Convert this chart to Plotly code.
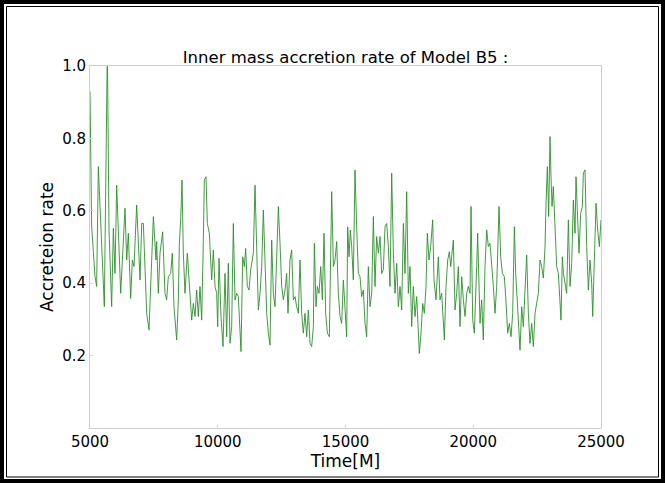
import plotly.graph_objects as go

time_m = [5000, 5065, 5196, 5261, 5326, 5561, 5679, 5744, 5848, 5914, 5979, 6044, 6201, 6305, 6370, 6436,
          6501, 6592, 6657, 6723, 6827, 6958, 7023, 7088, 7219, 7310, 7480,
          7583, 7609, 7674, 7740, 7844, 7935, 8000, 8066, 8157, 8222, 8288, 8392, 8457, 8496, 8549, 8601,
          8653, 8718, 8810, 8914, 8979, 9045, 9110, 9175, 9240, 9306, 9371, 9436, 9475, 9540, 9593, 9671,
          9762, 9828, 9893, 9958,
          9997, 10049, 10127, 10206, 10284, 10349, 10414, 10480, 10545, 10610, 10676, 10741, 10806, 10910,
          10976, 11041, 11093, 11158, 11224, 11289, 11354, 11393, 11458, 11524, 11589, 11654, 11720, 11785,
          11850, 11915, 11981, 12046, 12111, 12176, 12242, 12307, 12372, 12437,
          12502, 12567, 12632, 12698, 12750, 12828, 12893, 12959, 13024, 13089, 13154, 13220, 13285, 13350,
          13415, 13481, 13546, 13611, 13676, 13742, 13781, 13846, 13898, 13963, 14029, 14094, 14159, 14224,
          14290, 14368, 14460, 14525, 14590, 14655, 14720, 14786, 14851, 14916,
          15046, 15085, 15137, 15189, 15242, 15307, 15372, 15437, 15503, 15568, 15633, 15698, 15764, 15829,
          15894, 15959, 16025, 16090, 16155, 16220, 16286, 16351, 16416, 16481, 16547, 16612, 16677, 16742,
          16808, 16873, 16938, 17004, 17069, 17134, 17199, 17265, 17330, 17395, 17460, 17526,
          17590, 17655, 17721, 17786, 17851, 17890, 17955, 18021, 18086, 18151, 18203, 18269, 18334, 18412,
          18464, 18543, 18634, 18699, 18765, 18830, 18869, 18934, 19000, 19065, 19117, 19221, 19286, 19352,
          19417, 19482, 19548, 19613, 19678, 19743, 19809, 19874, 19913, 19978, 20043,
          20134, 20173, 20265, 20330, 20395, 20460, 20526, 20591, 20656, 20721, 20787, 20852, 20917, 21009,
          21074, 21139, 21217, 21270, 21348, 21413, 21478, 21544, 21609, 21661, 21713, 21765, 21831, 21896,
          21961, 22026, 22092, 22157, 22222, 22287, 22353, 22418, 22483, 22548, 22614,
          22678, 22744, 22809, 22848, 22900, 22952, 23005, 23044, 23083, 23135, 23200, 23266, 23331, 23396,
          23435, 23487, 23527, 23592, 23657, 23722, 23788, 23853, 23918, 23983, 24022, 24074, 24140, 24205,
          24270, 24309, 24375, 24440, 24505, 24570, 24636, 24675, 24740, 24805, 24870, 24936, 25000]

accretion_rate = [0.93, 0.556, 0.418, 0.391, 0.722, 0.335, 1.05, 0.547, 0.335, 0.552, 0.427, 0.671, 0.372, 0.538,
                  0.607, 0.464, 0.538, 0.358, 0.464, 0.446, 0.616, 0.409, 0.565, 0.565, 0.317, 0.271, 0.584,
                  0.464, 0.515, 0.372, 0.483, 0.542, 0.372, 0.354, 0.418, 0.427, 0.483, 0.335, 0.243, 0.354,
                  0.510, 0.575, 0.685, 0.483, 0.372, 0.483, 0.354, 0.298, 0.344, 0.308, 0.381, 0.308, 0.391,
                  0.298, 0.519, 0.685, 0.694, 0.565, 0.538, 0.409, 0.492, 0.391, 0.372,
                  0.280, 0.469, 0.308, 0.225, 0.427, 0.252, 0.455, 0.234, 0.280, 0.565, 0.354, 0.372, 0.363,
                  0.211, 0.473, 0.446, 0.496, 0.391, 0.381, 0.437, 0.464, 0.483, 0.671, 0.464, 0.326, 0.372,
                  0.446, 0.602, 0.418, 0.317, 0.262, 0.229, 0.519, 0.372, 0.335, 0.492, 0.612, 0.510,
                  0.391, 0.354, 0.381, 0.427, 0.317, 0.464, 0.492, 0.354, 0.363, 0.335, 0.317, 0.464, 0.317,
                  0.262, 0.317, 0.252, 0.326, 0.234, 0.225, 0.280, 0.510, 0.335, 0.391, 0.372, 0.446, 0.354,
                  0.538, 0.317, 0.262, 0.252, 0.653, 0.446, 0.464, 0.515, 0.372, 0.308, 0.289, 0.409,
                  0.252, 0.556, 0.473, 0.547, 0.501, 0.409, 0.713, 0.556, 0.427, 0.418, 0.363, 0.381, 0.289,
                  0.252, 0.446, 0.335, 0.372, 0.584, 0.391, 0.529, 0.483, 0.529, 0.427, 0.437, 0.556, 0.565,
                  0.501, 0.391, 0.704, 0.483, 0.372, 0.455, 0.335, 0.391, 0.326, 0.565, 0.427, 0.653, 0.372,
                  0.446,
                  0.280, 0.391, 0.308, 0.363, 0.252, 0.206, 0.262, 0.344, 0.317, 0.391, 0.538, 0.464, 0.501,
                  0.575, 0.409, 0.354, 0.473, 0.354, 0.372, 0.289, 0.243, 0.391, 0.464, 0.487, 0.446, 0.519,
                  0.326, 0.372, 0.446, 0.280, 0.418, 0.354, 0.308, 0.372, 0.391, 0.372, 0.612, 0.298, 0.262,
                  0.446, 0.538, 0.289, 0.354, 0.243, 0.446, 0.547, 0.501, 0.510, 0.455, 0.391, 0.317, 0.391,
                  0.612, 0.473, 0.427, 0.418, 0.363, 0.262, 0.289, 0.252, 0.317, 0.556, 0.427, 0.354, 0.289,
                  0.215, 0.335, 0.280, 0.381, 0.478, 0.317, 0.234, 0.289, 0.225, 0.317, 0.344, 0.372, 0.464,
                  0.446, 0.414, 0.501, 0.621, 0.722, 0.584, 0.805, 0.694, 0.612, 0.667, 0.547, 0.446, 0.427,
                  0.335, 0.298, 0.473, 0.427, 0.400, 0.372, 0.575, 0.391, 0.455, 0.630, 0.538, 0.694, 0.602,
                  0.483, 0.593, 0.612, 0.704, 0.713, 0.501, 0.381, 0.464, 0.400, 0.308, 0.501, 0.621, 0.547,
                  0.501, 0.575]

x_ticks = [5000, 10000, 15000, 20000, 25000]
y_ticks = [0.2, 0.4, 0.6, 0.8, 1.0]

W, H = 665, 483
L, R, T, B = 90, 601, 66, 428

def px(x):
    return (x - L) / (R - L)

def py(y):
    return (B - y) / (B - T)

fig = go.Figure()
fig.add_trace(go.Scatter(x=time_m, y=accretion_rate, mode="lines",
                         line=dict(color="#2a912a", width=0.9), showlegend=False, hoverinfo="skip"))

tick_font = dict(family="DejaVu Sans", size=15, color="#000000")
axis_common = dict(showgrid=False, zeroline=False, showline=True, linecolor="#cfcfcf", linewidth=1,
                   mirror=True, ticks="inside", ticklen=3, tickcolor="#d8d8d8",
                   tickfont=tick_font)

fig.update_layout(
    width=W, height=H,
    margin=dict(l=L, r=W - R, t=T, b=H - B, autoexpand=False),
    paper_bgcolor="white", plot_bgcolor="white",
    font=dict(family="DejaVu Sans", color="#000000"),
    title=dict(text="Inner mass accretion rate of Model B5 :",
               font=dict(family="DejaVu Sans", size=16.5, color="#000000"),
               x=(L + R) / 2 / W, xanchor="center", y=1 - 57 / H, yanchor="middle", yref="container"),
    xaxis=dict(range=[5000, 25000], tickvals=x_ticks, ticktext=[str(v) for v in x_ticks],
               title=dict(text="Time[M]", font=dict(family="DejaVu Sans", size=17, color="#000000"),
                          standoff=0),
               **axis_common),
    yaxis=dict(range=[0, 1.0], tickvals=y_ticks, ticktext=["%.1f" % v for v in y_ticks],
               title=dict(text="Accreteion rate", font=dict(family="DejaVu Sans", size=17, color="#000000"),
                          standoff=4),
               **axis_common),
    shapes=[
        dict(type="rect", xref="paper", yref="paper", x0=px(2), x1=px(663), y0=py(481), y1=py(2),
             line=dict(color="black", width=4), layer="above"),
        dict(type="rect", xref="paper", yref="paper", x0=px(6.5), x1=px(658.5), y0=py(477), y1=py(6.5),
             line=dict(color="black", width=1), layer="above"),
    ],
)

fig.write_html("out.html")
